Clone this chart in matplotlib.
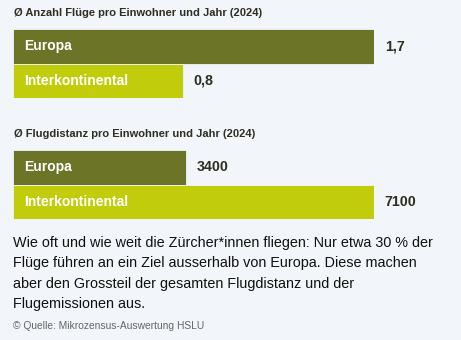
import matplotlib.pyplot as plt

plt.rcParams['font.family'] = ['Liberation Sans', 'DejaVu Sans']

W, H = 461, 340
BG = '#f2f5f9'
OLIVE = '#6b7427'
LIME = '#c1cc0b'
DARK = '#2e2e22'

categories = ['Europa', 'Interkontinental']
fluege = [1.7, 0.8]
fluege_labels = ['1,7', '0,8']
distanz = [3400, 7100]
distanz_labels = ['3400', '7100']

title1 = 'Ø Anzahl Flüge pro Einwohner und Jahr (2024)'
title2 = 'Ø Flugdistanz pro Einwohner und Jahr (2024)'
caption = ['Wie oft und wie weit die Zürcher*innen fliegen: Nur etwa 30 % der',
           'Flüge führen an ein Ziel ausserhalb von Europa. Diese machen',
           'aber den Grossteil der gesamten Flugdistanz und der',
           'Flugemissionen aus.']
source = '© Quelle: Mikrozensus-Auswertung HSLU'

fig = plt.figure(figsize=(W / 100, H / 100), dpi=100, facecolor=BG)


def px_axes(x0, y0, x1, y1):
    return fig.add_axes([x0 / W, 1 - y1 / H, (x1 - x0) / W, (y1 - y0) / H])


def bar_panel(ax, values, labels, xmax):
    ax.barh([0, 1], values, height=1.0, color=[OLIVE, LIME],
            edgecolor=BG, linewidth=0.6)
    ax.set_xlim(0, xmax)
    ax.set_ylim(1.5, -0.5)
    ax.axis('off')
    for i, (v, lab, cat) in enumerate(zip(values, labels, categories)):
        ax.text(xmax * 0.03, i, cat, color='white', fontsize=10,
                fontweight='bold', va='center', ha='left')
        ax.text(v + xmax * 0.03, i, lab, color=DARK, fontsize=10.3,
                fontweight='bold', va='center', ha='left')


ax1 = px_axes(13, 29, 374, 98)
bar_panel(ax1, fluege, fluege_labels, max(fluege))

ax2 = px_axes(13, 150, 374, 219)
bar_panel(ax2, distanz, distanz_labels, max(distanz))

fig.text(14 / W, 1 - 13 / H, title1, fontsize=8, fontweight='bold',
         color=DARK, va='center', ha='left')
fig.text(14 / W, 1 - 134 / H, title2, fontsize=8, fontweight='bold',
         color=DARK, va='center', ha='left')

for i, line in enumerate(caption):
    fig.text(13 / W, 1 - (243 + i * 20.3) / H, line, fontsize=10.4,
             color='#111111', va='center', ha='left')

fig.text(13 / W, 1 - 326 / H, source, fontsize=7.4, color='#666666',
         va='center', ha='left')

fig.savefig('out.png', dpi=100, facecolor=BG)
